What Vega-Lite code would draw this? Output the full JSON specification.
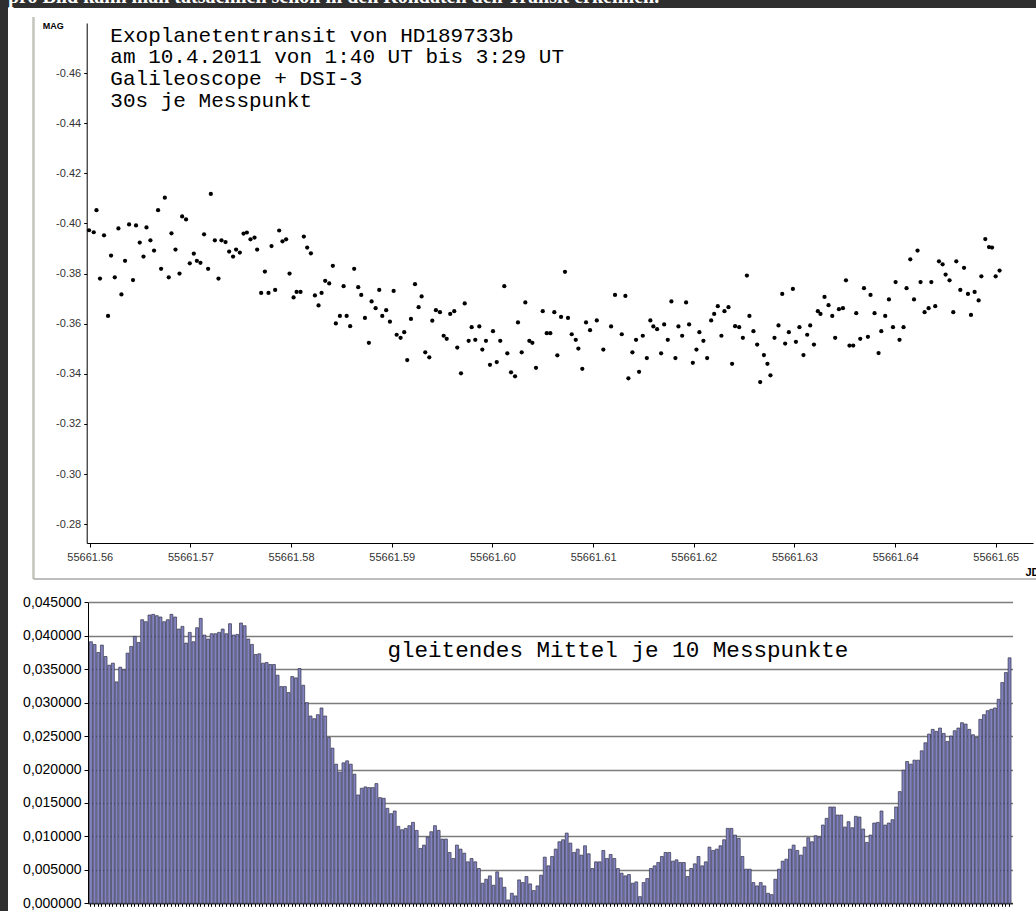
{
  "$schema": "https://vega.github.io/schema/vega-lite/v6.json",
  "width": 1028,
  "height": 903,
  "autosize": "none",
  "padding": {"left": 8, "top": 8, "right": 0, "bottom": 0},
  "background": "#2f2f2f",
  "config": {"view": {"fill": "white", "stroke": null}},
  "datasets": {
    "mag": [
      {"jd":55661.55993,"mag":-0.3973},{"jd":55661.56040,"mag":-0.3965},{"jd":55661.56067,"mag":-0.4053},{"jd":55661.56102,"mag":-0.3780},{"jd":55661.56142,"mag":-0.3953},
      {"jd":55661.56182,"mag":-0.3631},{"jd":55661.56212,"mag":-0.3872},{"jd":55661.56249,"mag":-0.3785},{"jd":55661.56285,"mag":-0.3980},{"jd":55661.56315,"mag":-0.3717},
      {"jd":55661.56351,"mag":-0.3851},{"jd":55661.56391,"mag":-0.3996},{"jd":55661.56430,"mag":-0.3774},{"jd":55661.56460,"mag":-0.3992},{"jd":55661.56497,"mag":-0.3924},
      {"jd":55661.56534,"mag":-0.3868},{"jd":55661.56564,"mag":-0.3984},{"jd":55661.56603,"mag":-0.3933},{"jd":55661.56639,"mag":-0.3892},{"jd":55661.56679,"mag":-0.4053},
      {"jd":55661.56709,"mag":-0.3819},{"jd":55661.56746,"mag":-0.4103},{"jd":55661.56785,"mag":-0.3785},{"jd":55661.56812,"mag":-0.3961},{"jd":55661.56852,"mag":-0.3896},
      {"jd":55661.56892,"mag":-0.3800},{"jd":55661.56918,"mag":-0.4028},{"jd":55661.56957,"mag":-0.4016},{"jd":55661.56994,"mag":-0.3841},{"jd":55661.57034,"mag":-0.3880},
      {"jd":55661.57064,"mag":-0.3851},{"jd":55661.57100,"mag":-0.3843},{"jd":55661.57136,"mag":-0.3957},{"jd":55661.57176,"mag":-0.3819},{"jd":55661.57203,"mag":-0.4118},
      {"jd":55661.57243,"mag":-0.3933},{"jd":55661.57279,"mag":-0.3780},{"jd":55661.57309,"mag":-0.3933},{"jd":55661.57349,"mag":-0.3926},{"jd":55661.57385,"mag":-0.3888},
      {"jd":55661.57424,"mag":-0.3868},{"jd":55661.57454,"mag":-0.3896},{"jd":55661.57491,"mag":-0.3884},{"jd":55661.57528,"mag":-0.3960},{"jd":55661.57561,"mag":-0.3964},
      {"jd":55661.57597,"mag":-0.3937},{"jd":55661.57637,"mag":-0.3944},{"jd":55661.57663,"mag":-0.3896},{"jd":55661.57703,"mag":-0.3723},{"jd":55661.57740,"mag":-0.3808},
      {"jd":55661.57776,"mag":-0.3723},{"jd":55661.57806,"mag":-0.3910},{"jd":55661.57842,"mag":-0.3735},{"jd":55661.57882,"mag":-0.3972},{"jd":55661.57915,"mag":-0.3929},
      {"jd":55661.57951,"mag":-0.3937},{"jd":55661.57985,"mag":-0.3800},{"jd":55661.58025,"mag":-0.3705},{"jd":55661.58055,"mag":-0.3727},{"jd":55661.58094,"mag":-0.3727},
      {"jd":55661.58127,"mag":-0.3948},{"jd":55661.58160,"mag":-0.3904},{"jd":55661.58197,"mag":-0.3881},{"jd":55661.58237,"mag":-0.3713},{"jd":55661.58273,"mag":-0.3673},
      {"jd":55661.58303,"mag":-0.3723},{"jd":55661.58339,"mag":-0.3771},{"jd":55661.58379,"mag":-0.3761},{"jd":55661.58415,"mag":-0.3831},{"jd":55661.58445,"mag":-0.3601},
      {"jd":55661.58485,"mag":-0.3631},{"jd":55661.58522,"mag":-0.3750},{"jd":55661.58552,"mag":-0.3631},{"jd":55661.58587,"mag":-0.3590},{"jd":55661.58627,"mag":-0.3819},
      {"jd":55661.58667,"mag":-0.3746},{"jd":55661.58697,"mag":-0.3715},{"jd":55661.58734,"mag":-0.3623},{"jd":55661.58773,"mag":-0.3524},{"jd":55661.58800,"mag":-0.3689},
      {"jd":55661.58840,"mag":-0.3662},{"jd":55661.58876,"mag":-0.3735},{"jd":55661.58906,"mag":-0.3631},{"jd":55661.58945,"mag":-0.3654},{"jd":55661.58982,"mag":-0.3608},
      {"jd":55661.59019,"mag":-0.3731},{"jd":55661.59049,"mag":-0.3556},{"jd":55661.59088,"mag":-0.3544},{"jd":55661.59124,"mag":-0.3566},{"jd":55661.59154,"mag":-0.3455},
      {"jd":55661.59191,"mag":-0.3619},{"jd":55661.59231,"mag":-0.3758},{"jd":55661.59267,"mag":-0.3666},{"jd":55661.59297,"mag":-0.3709},{"jd":55661.59333,"mag":-0.3486},
      {"jd":55661.59373,"mag":-0.3466},{"jd":55661.59403,"mag":-0.3612},{"jd":55661.59439,"mag":-0.3654},{"jd":55661.59479,"mag":-0.3646},{"jd":55661.59516,"mag":-0.3552},
      {"jd":55661.59546,"mag":-0.3540},{"jd":55661.59581,"mag":-0.3639},{"jd":55661.59621,"mag":-0.3650},{"jd":55661.59651,"mag":-0.3505},{"jd":55661.59688,"mag":-0.3402},
      {"jd":55661.59725,"mag":-0.3681},{"jd":55661.59764,"mag":-0.3532},{"jd":55661.59794,"mag":-0.3586},{"jd":55661.59830,"mag":-0.3536},{"jd":55661.59870,"mag":-0.3589},
      {"jd":55661.59900,"mag":-0.3497},{"jd":55661.59936,"mag":-0.3532},{"jd":55661.59976,"mag":-0.3436},{"jd":55661.60006,"mag":-0.3570},{"jd":55661.60043,"mag":-0.3447},
      {"jd":55661.60078,"mag":-0.3532},{"jd":55661.60118,"mag":-0.3750},{"jd":55661.60148,"mag":-0.3482},{"jd":55661.60185,"mag":-0.3406},{"jd":55661.60225,"mag":-0.3390},
      {"jd":55661.60254,"mag":-0.3605},{"jd":55661.60291,"mag":-0.3486},{"jd":55661.60327,"mag":-0.3685},{"jd":55661.60367,"mag":-0.3532},{"jd":55661.60397,"mag":-0.3524},
      {"jd":55661.60433,"mag":-0.3424},{"jd":55661.60500,"mag":-0.3650},{"jd":55661.60540,"mag":-0.3562},{"jd":55661.60575,"mag":-0.3562},{"jd":55661.60615,"mag":-0.3646},
      {"jd":55661.60645,"mag":-0.3474},{"jd":55661.60682,"mag":-0.3627},{"jd":55661.60721,"mag":-0.3807},{"jd":55661.60751,"mag":-0.3623},{"jd":55661.60788,"mag":-0.3558},
      {"jd":55661.60828,"mag":-0.3536},{"jd":55661.60854,"mag":-0.3501},{"jd":55661.60893,"mag":-0.3420},{"jd":55661.60930,"mag":-0.3605},{"jd":55661.60970,"mag":-0.3574},
      {"jd":55661.61037,"mag":-0.3613},{"jd":55661.61102,"mag":-0.3497},{"jd":55661.61179,"mag":-0.3589},{"jd":55661.61218,"mag":-0.3715},{"jd":55661.61285,"mag":-0.3558},
      {"jd":55661.61321,"mag":-0.3711},{"jd":55661.61351,"mag":-0.3382},{"jd":55661.61391,"mag":-0.3486},{"jd":55661.61427,"mag":-0.3536},{"jd":55661.61457,"mag":-0.3408},
      {"jd":55661.61494,"mag":-0.3552},{"jd":55661.61534,"mag":-0.3463},{"jd":55661.61569,"mag":-0.3613},{"jd":55661.61599,"mag":-0.3589},{"jd":55661.61636,"mag":-0.3578},
      {"jd":55661.61676,"mag":-0.3482},{"jd":55661.61706,"mag":-0.3597},{"jd":55661.61742,"mag":-0.3536},{"jd":55661.61778,"mag":-0.3689},{"jd":55661.61818,"mag":-0.3463},
      {"jd":55661.61848,"mag":-0.3589},{"jd":55661.61885,"mag":-0.3552},{"jd":55661.61924,"mag":-0.3685},{"jd":55661.61954,"mag":-0.3597},{"jd":55661.61991,"mag":-0.3444},
      {"jd":55661.62027,"mag":-0.3497},{"jd":55661.62056,"mag":-0.3566},{"jd":55661.62096,"mag":-0.3532},{"jd":55661.62133,"mag":-0.3463},{"jd":55661.62173,"mag":-0.3613},
      {"jd":55661.62203,"mag":-0.3639},{"jd":55661.62239,"mag":-0.3670},{"jd":55661.62275,"mag":-0.3552},{"jd":55661.62305,"mag":-0.3650},{"jd":55661.62345,"mag":-0.3666},
      {"jd":55661.62381,"mag":-0.3440},{"jd":55661.62411,"mag":-0.3590},{"jd":55661.62451,"mag":-0.3586},{"jd":55661.62488,"mag":-0.3544},{"jd":55661.62528,"mag":-0.3792},
      {"jd":55661.62553,"mag":-0.3631},{"jd":55661.62593,"mag":-0.3570},{"jd":55661.62630,"mag":-0.3517},{"jd":55661.62660,"mag":-0.3367},{"jd":55661.62697,"mag":-0.3475},
      {"jd":55661.62732,"mag":-0.3440},{"jd":55661.62762,"mag":-0.3394},{"jd":55661.62802,"mag":-0.3544},{"jd":55661.62842,"mag":-0.3593},{"jd":55661.62879,"mag":-0.3719},
      {"jd":55661.62908,"mag":-0.3521},{"jd":55661.62945,"mag":-0.3566},{"jd":55661.62985,"mag":-0.3739},{"jd":55661.63015,"mag":-0.3528},{"jd":55661.63050,"mag":-0.3586},
      {"jd":55661.63090,"mag":-0.3475},{"jd":55661.63127,"mag":-0.3556},{"jd":55661.63157,"mag":-0.3593},{"jd":55661.63194,"mag":-0.3517},{"jd":55661.63233,"mag":-0.3650},
      {"jd":55661.63259,"mag":-0.3639},{"jd":55661.63299,"mag":-0.3707},{"jd":55661.63339,"mag":-0.3674},{"jd":55661.63376,"mag":-0.3631},{"jd":55661.63405,"mag":-0.3544},
      {"jd":55661.63442,"mag":-0.3658},{"jd":55661.63482,"mag":-0.3662},{"jd":55661.63512,"mag":-0.3773},{"jd":55661.63547,"mag":-0.3513},{"jd":55661.63584,"mag":-0.3513},
      {"jd":55661.63614,"mag":-0.3642},{"jd":55661.63654,"mag":-0.3540},{"jd":55661.63691,"mag":-0.3742},{"jd":55661.63730,"mag":-0.3548},{"jd":55661.63756,"mag":-0.3715},
      {"jd":55661.63796,"mag":-0.3642},{"jd":55661.63836,"mag":-0.3483},{"jd":55661.63863,"mag":-0.3570},{"jd":55661.63902,"mag":-0.3631},{"jd":55661.63939,"mag":-0.3697},
      {"jd":55661.63979,"mag":-0.3586},{"jd":55661.64005,"mag":-0.3766},{"jd":55661.64044,"mag":-0.3536},{"jd":55661.64084,"mag":-0.3586},{"jd":55661.64114,"mag":-0.3742},
      {"jd":55661.64151,"mag":-0.3857},{"jd":55661.64188,"mag":-0.3697},{"jd":55661.64223,"mag":-0.3892},{"jd":55661.64253,"mag":-0.3766},{"jd":55661.64293,"mag":-0.3646},
      {"jd":55661.64333,"mag":-0.3662},{"jd":55661.64360,"mag":-0.3766},{"jd":55661.64399,"mag":-0.3670},{"jd":55661.64436,"mag":-0.3849},{"jd":55661.64472,"mag":-0.3837},
      {"jd":55661.64502,"mag":-0.3796},{"jd":55661.64541,"mag":-0.3773},{"jd":55661.64578,"mag":-0.3646},{"jd":55661.64608,"mag":-0.3849},{"jd":55661.64648,"mag":-0.3735},
      {"jd":55661.64685,"mag":-0.3823},{"jd":55661.64724,"mag":-0.3719},{"jd":55661.64754,"mag":-0.3635},{"jd":55661.64790,"mag":-0.3727},{"jd":55661.64830,"mag":-0.3693},
      {"jd":55661.64857,"mag":-0.3789},{"jd":55661.64896,"mag":-0.3938},{"jd":55661.64933,"mag":-0.3906},{"jd":55661.64963,"mag":-0.3904},{"jd":55661.64999,"mag":-0.3789},
      {"jd":55661.65038,"mag":-0.3812}
    ],
    "avg": [
      {"i":0,"v":0.0391},{"i":1,"v":0.0387},{"i":2,"v":0.0375},{"i":3,"v":0.0386},{"i":4,"v":0.0369},{"i":5,"v":0.0356},{"i":6,"v":0.0359},{"i":7,"v":0.0331},{"i":8,"v":0.0353},{"i":9,"v":0.0349},
      {"i":10,"v":0.0374},{"i":11,"v":0.0384},{"i":12,"v":0.0399},{"i":13,"v":0.0390},{"i":14,"v":0.0424},{"i":15,"v":0.0421},{"i":16,"v":0.0431},{"i":17,"v":0.0432},{"i":18,"v":0.0430},{"i":19,"v":0.0428},
      {"i":20,"v":0.0421},{"i":21,"v":0.0424},{"i":22,"v":0.0432},{"i":23,"v":0.0428},{"i":24,"v":0.0410},{"i":25,"v":0.0414},{"i":26,"v":0.0389},{"i":27,"v":0.0405},{"i":28,"v":0.0391},{"i":29,"v":0.0412},
      {"i":30,"v":0.0426},{"i":31,"v":0.0401},{"i":32,"v":0.0395},{"i":33,"v":0.0403},{"i":34,"v":0.0403},{"i":35,"v":0.0405},{"i":36,"v":0.0410},{"i":37,"v":0.0403},{"i":38,"v":0.0418},{"i":39,"v":0.0401},
      {"i":40,"v":0.0402},{"i":41,"v":0.0419},{"i":42,"v":0.0415},{"i":43,"v":0.0395},{"i":44,"v":0.0387},{"i":45,"v":0.0372},{"i":46,"v":0.0373},{"i":47,"v":0.0359},{"i":48,"v":0.0360},{"i":49,"v":0.0357},
      {"i":50,"v":0.0357},{"i":51,"v":0.0341},{"i":52,"v":0.0324},{"i":53,"v":0.0324},{"i":54,"v":0.0315},{"i":55,"v":0.0339},{"i":56,"v":0.0337},{"i":57,"v":0.0351},{"i":58,"v":0.0326},{"i":59,"v":0.0300},
      {"i":60,"v":0.0280},{"i":61,"v":0.0276},{"i":62,"v":0.0282},{"i":63,"v":0.0292},{"i":64,"v":0.0280},{"i":65,"v":0.0248},{"i":66,"v":0.0232},{"i":67,"v":0.0208},{"i":68,"v":0.0196},{"i":69,"v":0.0210},
      {"i":70,"v":0.0213},{"i":71,"v":0.0208},{"i":72,"v":0.0193},{"i":73,"v":0.0162},{"i":74,"v":0.0172},{"i":75,"v":0.0174},{"i":76,"v":0.0173},{"i":77,"v":0.0173},{"i":78,"v":0.0179},{"i":79,"v":0.0158},
      {"i":80,"v":0.0157},{"i":81,"v":0.0142},{"i":82,"v":0.0134},{"i":83,"v":0.0138},{"i":84,"v":0.0115},{"i":85,"v":0.0110},{"i":86,"v":0.0112},{"i":87,"v":0.0116},{"i":88,"v":0.0121},{"i":89,"v":0.0109},
      {"i":90,"v":0.0082},{"i":91,"v":0.0087},{"i":92,"v":0.0099},{"i":93,"v":0.0107},{"i":94,"v":0.0116},{"i":95,"v":0.0109},{"i":96,"v":0.0096},{"i":97,"v":0.0096},{"i":98,"v":0.0076},{"i":99,"v":0.0067},
      {"i":100,"v":0.0087},{"i":101,"v":0.0081},{"i":102,"v":0.0075},{"i":103,"v":0.0062},{"i":104,"v":0.0067},{"i":105,"v":0.0062},{"i":106,"v":0.0052},{"i":107,"v":0.0030},{"i":108,"v":0.0036},{"i":109,"v":0.0041},
      {"i":110,"v":0.0027},{"i":111,"v":0.0047},{"i":112,"v":0.0038},{"i":113,"v":0.0024},{"i":114,"v":0.0005},{"i":115,"v":0.0015},{"i":116,"v":0.0011},{"i":117,"v":0.0035},{"i":118,"v":0.0031},{"i":119,"v":0.0040},
      {"i":120,"v":0.0029},{"i":121,"v":0.0019},{"i":122,"v":0.0026},{"i":123,"v":0.0042},{"i":124,"v":0.0069},{"i":125,"v":0.0056},{"i":126,"v":0.0070},{"i":127,"v":0.0081},{"i":128,"v":0.0092},{"i":129,"v":0.0095},
      {"i":130,"v":0.0105},{"i":131,"v":0.0090},{"i":132,"v":0.0076},{"i":133,"v":0.0081},{"i":134,"v":0.0072},{"i":135,"v":0.0086},{"i":136,"v":0.0074},{"i":137,"v":0.0052},{"i":138,"v":0.0062},{"i":139,"v":0.0062},
      {"i":140,"v":0.0079},{"i":141,"v":0.0067},{"i":142,"v":0.0073},{"i":143,"v":0.0067},{"i":144,"v":0.0052},{"i":145,"v":0.0045},{"i":146,"v":0.0041},{"i":147,"v":0.0043},{"i":148,"v":0.0030},{"i":149,"v":0.0032},
      {"i":150,"v":0.0010},{"i":151,"v":0.0031},{"i":152,"v":0.0037},{"i":153,"v":0.0052},{"i":154,"v":0.0056},{"i":155,"v":0.0061},{"i":156,"v":0.0070},{"i":157,"v":0.0076},{"i":158,"v":0.0076},{"i":159,"v":0.0063},
      {"i":160,"v":0.0065},{"i":161,"v":0.0061},{"i":162,"v":0.0061},{"i":163,"v":0.0040},{"i":164,"v":0.0052},{"i":165,"v":0.0059},{"i":166,"v":0.0070},{"i":167,"v":0.0056},{"i":168,"v":0.0062},{"i":169,"v":0.0084},
      {"i":170,"v":0.0079},{"i":171,"v":0.0081},{"i":172,"v":0.0086},{"i":173,"v":0.0095},{"i":174,"v":0.0112},{"i":175,"v":0.0112},{"i":176,"v":0.0102},{"i":177,"v":0.0097},{"i":178,"v":0.0070},{"i":179,"v":0.0051},
      {"i":180,"v":0.0051},{"i":181,"v":0.0031},{"i":182,"v":0.0026},{"i":183,"v":0.0031},{"i":184,"v":0.0026},{"i":185,"v":0.0015},{"i":186,"v":0.0013},{"i":187,"v":0.0036},{"i":188,"v":0.0051},{"i":189,"v":0.0063},
      {"i":190,"v":0.0066},{"i":191,"v":0.0081},{"i":192,"v":0.0087},{"i":193,"v":0.0079},{"i":194,"v":0.0072},{"i":195,"v":0.0084},{"i":196,"v":0.0098},{"i":197,"v":0.0092},{"i":198,"v":0.0101},{"i":199,"v":0.0099},
      {"i":200,"v":0.0117},{"i":201,"v":0.0127},{"i":202,"v":0.0144},{"i":203,"v":0.0144},{"i":204,"v":0.0132},{"i":205,"v":0.0132},{"i":206,"v":0.0114},{"i":207,"v":0.0122},{"i":208,"v":0.0113},{"i":209,"v":0.0130},
      {"i":210,"v":0.0129},{"i":211,"v":0.0111},{"i":212,"v":0.0091},{"i":213,"v":0.0102},{"i":214,"v":0.0120},{"i":215,"v":0.0121},{"i":216,"v":0.0138},{"i":217,"v":0.0117},{"i":218,"v":0.0120},{"i":219,"v":0.0125},
      {"i":220,"v":0.0144},{"i":221,"v":0.0167},{"i":222,"v":0.0199},{"i":223,"v":0.0212},{"i":224,"v":0.0208},{"i":225,"v":0.0214},{"i":226,"v":0.0214},{"i":227,"v":0.0228},{"i":228,"v":0.0240},{"i":229,"v":0.0253},
      {"i":230,"v":0.0260},{"i":231,"v":0.0257},{"i":232,"v":0.0262},{"i":233,"v":0.0254},{"i":234,"v":0.0242},{"i":235,"v":0.0250},{"i":236,"v":0.0258},{"i":237,"v":0.0262},{"i":238,"v":0.0270},{"i":239,"v":0.0268},
      {"i":240,"v":0.0260},{"i":241,"v":0.0252},{"i":242,"v":0.0248},{"i":243,"v":0.0275},{"i":244,"v":0.0282},{"i":245,"v":0.0288},{"i":246,"v":0.0290},{"i":247,"v":0.0292},{"i":248,"v":0.0305},{"i":249,"v":0.0330},
      {"i":250,"v":0.0345},{"i":251,"v":0.0367}
    ]
  },
  "resolve": {"scale": {"x": "independent", "y": "independent"}, "axis": {"x": "independent", "y": "independent"}},
  "layer": [
    {
      "layer": [
        {
          "data": {"name": "mag"},
          "mark": {"type": "circle", "size": 18, "color": "black", "opacity": 1},
          "encoding": {
            "x": {
              "field": "jd", "type": "quantitative",
              "scale": {"domain": [55661.5597, 55661.6537], "range": [78.7, 1025], "nice": false, "zero": false},
              "axis": {
                "orient": "bottom", "offset": -368, "values": [55661.56,55661.57,55661.58,55661.59,55661.60,55661.61,55661.62,55661.63,55661.64,55661.65],
                "format": ".2f", "labelFont": "Liberation Sans", "labelFontSize": 11, "labelColor": "#333",
                "labelPadding": 4, "tickSize": 4, "tickColor": "#000", "domainColor": "#000", "grid": false, "labelFlush": false,
                "title": "JD", "titleX": 1017, "titleY": 29, "titleAngle": 0, "titleAlign": "left", "titleBaseline": "middle",
                "titleFont": "Liberation Sans", "titleFontSize": 11, "titleFontWeight": "bold", "titleColor": "#000"
              }
            },
            "y": {
              "field": "mag", "type": "quantitative",
              "scale": {"domain": [-0.48, -0.2725], "range": [15, 535], "nice": false, "zero": false},
              "axis": {
                "orient": "left", "offset": -78.7, "values": [-0.46,-0.44,-0.42,-0.40,-0.38,-0.36,-0.34,-0.32,-0.30,-0.28],
                "labelExpr": "replace(format(datum.value, '.2f'), '\u2212', '-')",
                "labelFont": "Liberation Sans", "labelFontSize": 11, "labelColor": "#333",
                "labelPadding": 3, "tickSize": 3, "tickColor": "#000", "domainColor": "#000", "grid": false,
                "title": "MAG", "titleX": -34, "titleY": 17, "titleAngle": 0, "titleAlign": "center", "titleBaseline": "middle",
                "titleFont": "Liberation Sans", "titleFontSize": 9, "titleFontWeight": "bold", "titleColor": "#000"
              }
            }
          }
        },
        {
          "data": {"values": [{}]},
          "mark": {"type": "rule", "color": "#c4c4bc", "strokeWidth": 2.5},
          "encoding": {
            "x": {"datum": 55661.554415, "type": "quantitative"},
            "y": {"datum": -0.482394, "type": "quantitative"},
            "y2": {"datum": -0.258132}
          }
        },
        {
          "data": {"values": [{}]},
          "mark": {"type": "rule", "color": "#a8a8a8", "strokeWidth": 1.5},
          "encoding": {
            "x": {"datum": 55661.554415, "type": "quantitative"},
            "x2": {"datum": 55661.6541},
            "y": {"datum": -0.258132, "type": "quantitative"}
          }
        },
        {
          "data": {"values": [{}]},
          "mark": {"type": "text", "align": "left", "baseline": "alphabetic", "font": "Liberation Mono", "fontSize": 21, "lineHeight": 21.7, "color": "#000", "lineBreak": "\n",
                   "text": "Exoplanetentransit von HD189733b\nam 10.4.2011 von 1:40 UT bis 3:29 UT\nGalileoscope + DSI-3\n30s je Messpunkt"},
          "encoding": {
            "x": {"datum": 55661.56205, "type": "quantitative"},
            "y": {"datum": -0.47254, "type": "quantitative"}
          }
        },
        {
          "data": {"values": [{}]},
          "mark": {"type": "text", "align": "left", "baseline": "alphabetic", "font": "Liberation Serif", "fontWeight": "bold", "fontSize": 20, "color": "#ffffff",
                   "text": "pro Bild kann man tatsächlich schon in den Rohdaten den Transit erkennen."},
          "encoding": {
            "x": {"datum": 55661.55188, "type": "quantitative"},
            "y": {"datum": -0.48798, "type": "quantitative"}
          }
        }
      ]
    },
    {
      "layer": [
        {
          "data": {"name": "avg"},
          "mark": {"type": "bar", "fill": "#8282c0", "stroke": "#34344a", "strokeWidth": 0.7},
          "encoding": {
            "x": {
              "field": "i", "type": "ordinal",
              "scale": {"range": [80, 1004.5], "paddingInner": 0.2, "paddingOuter": 0.4},
              "axis": {"orient": "bottom", "offset": -7.7, "labels": false, "tickSize": 3, "tickColor": "#000", "domainColor": "#000", "title": null, "grid": false}
            },
            "y": {
              "field": "v", "type": "quantitative",
              "scale": {"domain": [0, 0.045], "range": [895.3, 594.3], "nice": false, "zero": true},
              "axis": {
                "orient": "left", "offset": -80, "values": [0,0.005,0.01,0.015,0.02,0.025,0.03,0.035,0.04,0.045],
                "labelExpr": "replace(format(datum.value, '.6f'), '.', ',')",
                "labelFont": "Liberation Sans", "labelFontSize": 14, "labelColor": "#000", "labelPadding": 3,
                "tickSize": 4, "tickColor": "#000", "domainColor": "#000",
                "grid": true, "gridColor": "#7c7c7c", "gridWidth": 1.5, "title": null
              }
            }
          }
        },
        {
          "data": {"values": [{}]},
          "mark": {"type": "text", "align": "left", "baseline": "middle", "font": "Liberation Mono", "fontSize": 22.6, "color": "#000",
                   "text": "gleitendes Mittel je 10 Messpunkte"},
          "encoding": {
            "x": {"datum": 81, "type": "ordinal"},
            "y": {"datum": 0.0379, "type": "quantitative"}
          }
        }
      ]
    }
  ]
}
